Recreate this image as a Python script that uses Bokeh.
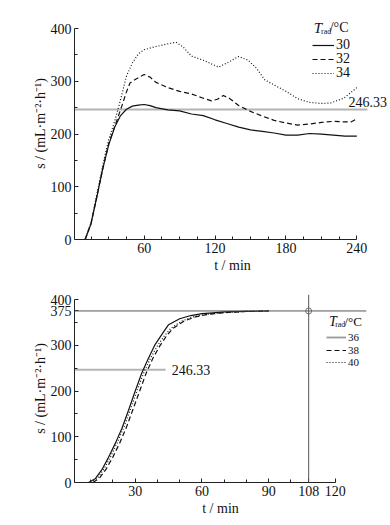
from bokeh.plotting import figure
from bokeh.models import (FixedTicker, Span, Label, Legend, LegendItem, Range1d)
from bokeh.layouts import column
from bokeh.embed import file_html
from bokeh.resources import INLINE

# ---------------- data: top chart (T_rad = 30, 32, 34 °C) ----------------
t30 = [10, 15, 20, 25, 30, 35, 40, 45, 50, 55, 60, 65, 70, 80, 90, 100, 110, 120, 130, 140, 150, 160, 170, 180, 190, 200, 210, 220, 230, 240]
s30 = [0, 30, 82, 135, 180, 213, 235, 247, 253, 255, 256, 254, 250, 246, 244, 238, 235, 227, 220, 213, 208, 205, 202, 198, 198, 201, 200, 198, 196, 196]
t32 = [10, 15, 20, 25, 30, 35, 40, 45, 48, 52, 56, 60, 65, 70, 80, 90, 100, 110, 117, 122, 127, 132, 140, 150, 160, 170, 180, 190, 200, 210, 220, 230, 235, 240]
s32 = [0, 30, 82, 135, 182, 214, 246, 280, 297, 303, 308, 313, 308, 298, 288, 281, 276, 268, 263, 266, 273, 268, 254, 243, 234, 226, 221, 217, 219, 222, 224, 223, 223, 229]
t34 = [10, 15, 20, 25, 30, 35, 40, 45, 50, 55, 60, 70, 80, 87, 93, 100, 110, 118, 123, 131, 140, 148, 155, 162, 170, 180, 190, 200, 210, 218, 229, 240]
s34 = [0, 32, 86, 142, 190, 224, 265, 310, 335, 352, 360, 366, 371, 374, 365, 348, 340, 332, 327, 336, 347, 340, 325, 303, 293, 281, 267, 260, 258, 259, 268, 288]
top_series = [("30", t30, s30, "solid"), ("32", t32, s32, "5 3"), ("34", t34, s34, "1 2")]

# ---------------- data: bottom chart (T_rad = 36, 38, 40 °C) ----------------
t36 = [9, 12, 15, 18, 21, 24, 27, 30, 33, 36, 39, 42, 45, 50, 55, 60, 65, 70, 80, 90]
s36 = [0, 8, 28, 55, 85, 118, 158, 200, 240, 272, 302, 324, 345, 358, 365, 369, 371, 373, 374, 375]
t38 = [11, 14, 17, 20, 23, 26, 29, 32, 35, 38, 41, 44, 47, 52, 57, 62, 67, 72, 80, 90]
s38 = [0, 10, 30, 56, 86, 120, 160, 200, 240, 272, 298, 320, 337, 353, 362, 367, 370, 372, 374, 375]
t40 = [10, 13, 16, 19, 22, 25, 28, 31, 34, 37, 40, 43, 46, 51, 56, 61, 66, 71, 80, 90]
s40 = [0, 9, 30, 57, 88, 122, 162, 203, 242, 273, 299, 320, 337, 353, 362, 367, 370, 372, 374, 375]
bottom_series = [("36", t36, s36, "solid"), ("38", t38, s38, "5 3"), ("40", t40, s40, "1 2")]

threshold = 246.33
s_max = 375
t_max = 108
top_line_end = 249
bot_line_end = 43.7
top_xticks = [60, 120, 180, 240]
top_xminor = [15, 30, 45, 75, 90, 105, 135, 150, 165, 195, 210, 225]
top_yticks = [0, 100, 200, 300, 400]
bot_xticks = [30, 60, 90, 108, 120]
bot_xminor = [10, 20, 40, 50, 70, 80, 100]
bot_yticks = [0, 100, 200, 300, 375, 400]
yminor = [50, 150, 250, 350]

FONT = "'Liberation Serif', serif"
YLABEL = "s / (mL·m⁻²·h⁻¹)"
XLABEL = "t / min"
INK = "#111111"


def style_axes(p, xt, xm, yt, ym, xb, yb):
    for ax in (p.xaxis[0], p.yaxis[0]):
        ax.major_label_text_font = FONT
        ax.major_label_text_font_size = "14px"
        ax.major_label_text_color = INK
        ax.axis_label_text_font = FONT
        ax.axis_label_text_font_size = "14px"
        ax.axis_label_text_font_style = "normal"
        ax.axis_label_text_color = INK
        ax.axis_line_color = "#222222"
        ax.major_tick_line_color = "#222222"
        ax.minor_tick_line_color = "#222222"
        ax.major_tick_in = 4
        ax.major_tick_out = 0
        ax.minor_tick_in = 3
        ax.minor_tick_out = 0
        ax.major_label_standoff = 3
    p.xaxis[0].axis_label_standoff = 2
    p.yaxis[0].axis_label_standoff = 0
    p.xaxis[0].ticker = FixedTicker(ticks=xt, minor_ticks=xm)
    p.yaxis[0].ticker = FixedTicker(ticks=yt, minor_ticks=ym)
    p.xaxis[0].bounds = xb
    p.yaxis[0].bounds = yb
    p.xaxis[0].axis_label = XLABEL
    p.yaxis[0].axis_label = YLABEL
    p.xgrid.visible = False
    p.ygrid.visible = False
    p.outline_line_color = None


def legend_title(p, x, y, dx_sub, dx_rest, dy_sub, size):
    p.add_layout(Label(x=x, y=y, text="T", text_font=FONT, text_font_size=f"{size + 1}px",
                       text_font_style="italic", text_baseline="middle", text_color=INK))
    p.add_layout(Label(x=x + dx_sub, y=y - dy_sub, text="rad", text_font=FONT, text_font_size="8px",
                       text_baseline="middle", text_color=INK))
    p.add_layout(Label(x=x + dx_rest, y=y, text="/°C", text_font=FONT, text_font_size=f"{size}px",
                       text_baseline="middle", text_color=INK))


def add_row_legend(p, name, renderer, x, y, gw, size):
    leg = Legend(items=[LegendItem(label=name, renderers=[renderer])], location=(x, y),
                 glyph_width=gw, glyph_height=10, label_height=10, spacing=0, padding=0,
                 margin=0, label_standoff=2, label_text_color=INK,
                 border_line_alpha=0, background_fill_alpha=0,
                 label_text_font=FONT, label_text_font_size=f"{size}px")
    p.add_layout(leg, "center")


# ---------------- top figure ----------------
p1 = figure(frame_width=316, frame_height=232, output_backend="svg", toolbar_location=None,
            x_range=Range1d(1, 268.5), y_range=Range1d(0, 440), min_border=0,
            min_border_left=74, min_border_right=0, min_border_top=7, min_border_bottom=41)
style_axes(p1, top_xticks, top_xminor, top_yticks, yminor, (1, 240), (0, 400))
p1.segment(x0=[1], y0=[threshold], x1=[top_line_end], y1=[threshold],
           line_color="#b4b4b4", line_width=2)
for (name, t, s, dash), yloc in zip(top_series, [186, 172, 158]):
    r = p1.line(t, s, line_color=INK, line_width=1.2, line_dash=dash)
    add_row_legend(p1, name, r, 238, yloc, 22, 14)
p1.add_layout(Label(x=233, y=threshold, y_offset=8, text=f"{threshold:.2f}", text_color=INK,
                    text_font=FONT, text_font_size="14px", text_baseline="middle"))
legend_title(p1, 203.5, 402, 6.2, 13.5, 8, 14)

# ---------------- bottom figure ----------------
p2 = figure(width=388, height=244, output_backend="svg", toolbar_location=None,
            x_range=Range1d(2.7, 134), y_range=Range1d(0, 411),
            min_border_left=74, min_border_right=22, min_border_top=14, min_border_bottom=42)
style_axes(p2, bot_xticks, bot_xminor, bot_yticks, yminor, (2.7, 120), (0, 400))
p2.add_layout(Span(location=s_max, dimension="width", line_color="#555555", line_width=1))
p2.add_layout(Span(location=t_max, dimension="height", line_color="#555555", line_width=1))
p2.segment(x0=[2.7], y0=[threshold], x1=[bot_line_end], y1=[threshold],
           line_color="#b4b4b4", line_width=2)
p2.scatter([t_max], [s_max], marker="circle", size=6, line_color="#777777",
           fill_color="white", line_width=1)
nan = float("nan")
for (name, t, s, dash), yloc in zip(bottom_series, [139, 126, 114]):
    p2.line(t, s, line_color=INK, line_width=1.2, line_dash=dash)
    col = "#999999" if dash == "solid" else INK
    dummy = p2.line([nan, nan], [nan, nan], line_color=col,
                    line_width=1.8 if dash == "solid" else 1.2, line_dash=dash)
    add_row_legend(p2, name, dummy, 252, yloc, 20, 11)
p2.add_layout(Label(x=46.4, y=threshold, text=f"{threshold:.2f}", text_color=INK,
                    text_font=FONT, text_font_size="14px", text_baseline="middle"))
legend_title(p2, 117.1, 352, 2.8, 7.0, 6, 13)

layout = column(p1, p2, spacing=0)
open("out.html", "w").write(file_html(layout, INLINE))
